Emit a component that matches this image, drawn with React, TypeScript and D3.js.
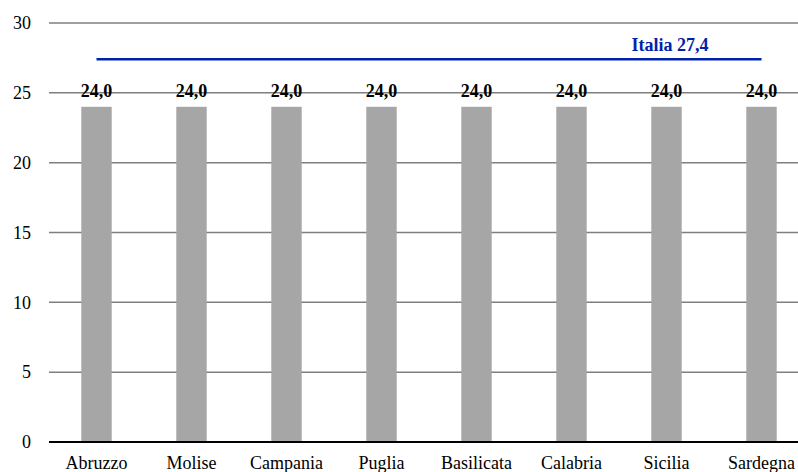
import React from "react";
import * as d3 from "d3";

const categories = ["Abruzzo", "Molise", "Campania", "Puglia", "Basilicata", "Calabria", "Sicilia", "Sardegna"];
const values = [24.0, 24.0, 24.0, 24.0, 24.0, 24.0, 24.0, 24.0];
const italia = 27.4;
const yTicks = [0, 5, 10, 15, 20, 25, 30];

const W = 798;
const H = 472;
const fmt = (v: number) => v.toFixed(1).replace(".", ",");
const font = "'Times New Roman', 'Liberation Serif', Times, serif";

export default function App() {
  const x = d3.scaleBand<string>().domain(categories).range([49, 809]).paddingInner(0.68).paddingOuter(0.34);
  const y = d3.scaleLinear().domain([0, 30]).range([442, 23]);
  const cx = (c: string) => (x(c) as number) + x.bandwidth() / 2;
  const ts = { fontFamily: font };
  return (
    <svg width={W} height={H} style={{ position: "absolute", left: 0, top: 0, fontFamily: font }}>
      <rect width={W} height={H} fill="#fff" />
      {yTicks.filter((t) => t > 0).map((t) => (
        <line key={t} x1={49} x2={W} y1={y(t)} y2={y(t)} stroke="#7f7f7f" strokeWidth={1.5} />
      ))}
      {yTicks.map((t) => (
        <text key={t} x={31} y={y(t)} dy="0.35em" textAnchor="end" fontSize={18} fill="#000" style={ts}>
          {t}
        </text>
      ))}
      {categories.map((c, i) => (
        <rect key={c} x={x(c)} y={y(values[i])} width={x.bandwidth()} height={y(0) - y(values[i])} fill="#a6a6a6" />
      ))}
      <line x1={49} x2={W} y1={y(0)} y2={y(0)} stroke="#000" strokeWidth={2} />
      <line x1={cx(categories[0])} x2={cx(categories[categories.length - 1])} y1={y(italia)} y2={y(italia)} stroke="#0022aa" strokeWidth={2.5} />
      <text x={670} y={51} textAnchor="middle" fontSize={18} fontWeight="bold" fill="#0022aa" style={ts}>
        {"Italia " + fmt(italia)}
      </text>
      {categories.map((c, i) => (
        <text key={c} x={cx(c)} y={y(values[i]) - 10} textAnchor="middle" fontSize={18} fontWeight="bold" fill="#000" style={ts}>
          {fmt(values[i])}
        </text>
      ))}
      {categories.map((c) => (
        <text key={c} x={cx(c)} y={469} textAnchor="middle" fontSize={18} fill="#000" style={ts}>
          {c}
        </text>
      ))}
    </svg>
  );
}
